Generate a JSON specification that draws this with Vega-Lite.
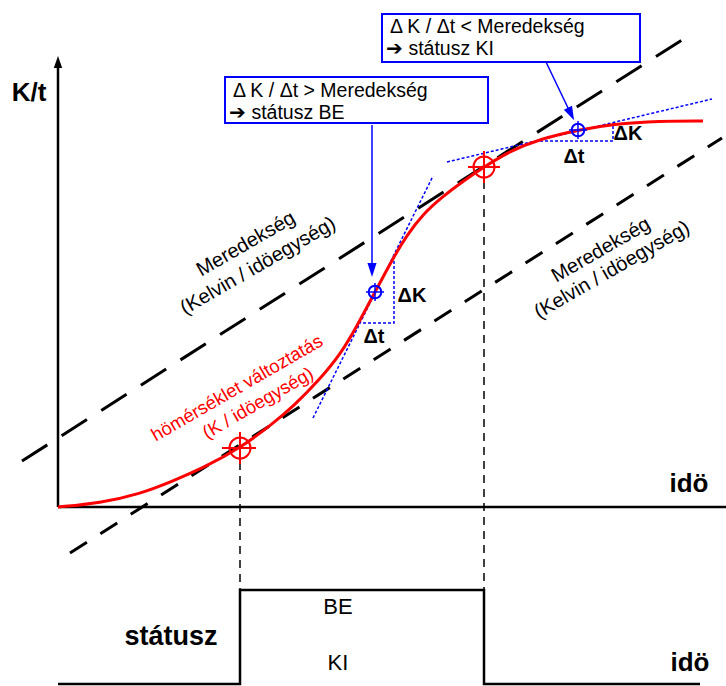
{
  "$schema": "https://vega.github.io/schema/vega-lite/v6.json",
  "width": 726,
  "height": 686,
  "padding": 0,
  "autosize": {"type": "none"},
  "background": "white",
  "config": {"view": {"stroke": null}, "text": {"font": "Liberation Sans"}},
  "datasets": {
    "dashLong": [{"g": "a", "o": 1, "x": 22, "y": 461}, {"g": "a", "o": 2, "x": 685, "y": 38}],
    "dashShort": [{"g": "a", "o": 1, "x": 70, "y": 553}, {"g": "a", "o": 2, "x": 722, "y": 138}],
    "axes": [
      {"g": "yaxis", "o": 1, "x": 58, "y": 507}, {"g": "yaxis", "o": 2, "x": 58, "y": 62},
      {"g": "xaxis", "o": 1, "x": 58, "y": 507}, {"g": "xaxis", "o": 2, "x": 726, "y": 507},
      {"g": "step", "o": 1, "x": 58, "y": 684}, {"g": "step", "o": 2, "x": 240, "y": 684},
      {"g": "step", "o": 3, "x": 240, "y": 590}, {"g": "step", "o": 4, "x": 484, "y": 590},
      {"g": "step", "o": 5, "x": 484, "y": 684}, {"g": "step", "o": 6, "x": 700, "y": 684}
    ],
    "vdash": [
      {"g": "a", "o": 1, "x": 240, "y": 448}, {"g": "a", "o": 2, "x": 240, "y": 592},
      {"g": "b", "o": 1, "x": 484, "y": 167}, {"g": "b", "o": 2, "x": 484, "y": 592}
    ],
    "bdot": [
      {"g": "t1", "o": 1, "x": 313, "y": 418}, {"g": "t1", "o": 2, "x": 433, "y": 176},
      {"g": "t2", "o": 1, "x": 447, "y": 162}, {"g": "t2", "o": 2, "x": 712, "y": 99},
      {"g": "d1", "o": 1, "x": 363, "y": 323}, {"g": "d1", "o": 2, "x": 394, "y": 323}, {"g": "d1", "o": 3, "x": 394, "y": 258},
      {"g": "d2", "o": 1, "x": 540, "y": 141}, {"g": "d2", "o": 2, "x": 613, "y": 141}, {"g": "d2", "o": 3, "x": 613, "y": 123}
    ],
    "red": [
      {"x": 58, "y": 507}, {"x": 100, "y": 503}, {"x": 140, "y": 494}, {"x": 173, "y": 481},
      {"x": 205, "y": 467}, {"x": 240, "y": 448}, {"x": 270, "y": 426}, {"x": 295, "y": 405},
      {"x": 320, "y": 379}, {"x": 340, "y": 355}, {"x": 357, "y": 326}, {"x": 375, "y": 292},
      {"x": 392, "y": 260}, {"x": 407, "y": 235}, {"x": 423, "y": 214}, {"x": 442, "y": 197},
      {"x": 462, "y": 182}, {"x": 484, "y": 167}, {"x": 510, "y": 151}, {"x": 540, "y": 139},
      {"x": 578, "y": 130}, {"x": 613, "y": 124}, {"x": 660, "y": 121}, {"x": 703, "y": 121}
    ],
    "rcross": [
      {"g": "r1h", "o": 1, "x": 222, "y": 448}, {"g": "r1h", "o": 2, "x": 256, "y": 448},
      {"g": "r1v", "o": 1, "x": 240, "y": 432}, {"g": "r1v", "o": 2, "x": 240, "y": 464},
      {"g": "r2h", "o": 1, "x": 468, "y": 167}, {"g": "r2h", "o": 2, "x": 500, "y": 167},
      {"g": "r2v", "o": 1, "x": 484, "y": 151}, {"g": "r2v", "o": 2, "x": 484, "y": 183}
    ],
    "rcirc": [{"x": 240, "y": 448}, {"x": 484, "y": 167}],
    "bsolid": [
      {"g": "p1", "o": 1, "x": 372, "y": 125}, {"g": "p1", "o": 2, "x": 372, "y": 268},
      {"g": "p2", "o": 1, "x": 546, "y": 62}, {"g": "p2", "o": 2, "x": 569, "y": 110},
      {"g": "c1h", "o": 1, "x": 366, "y": 292}, {"g": "c1h", "o": 2, "x": 384, "y": 292},
      {"g": "c1v", "o": 1, "x": 375, "y": 283}, {"g": "c1v", "o": 2, "x": 375, "y": 301},
      {"g": "c2h", "o": 1, "x": 569, "y": 130}, {"g": "c2h", "o": 2, "x": 587, "y": 130},
      {"g": "c2v", "o": 1, "x": 578, "y": 121}, {"g": "c2v", "o": 2, "x": 578, "y": 139}
    ],
    "bcirc": [{"x": 375, "y": 292}, {"x": 578, "y": 130}],
    "upArrow": [{"x": 58, "y": 62}],
    "downArrow1": [{"x": 372, "y": 270}],
    "downArrow2": [{"x": 571, "y": 114}],
    "boxes": [{"x": 225, "x2": 488, "y": 77, "y2": 123}, {"x": 382, "x2": 640, "y": 14, "y2": 62}],
    "boldBig": [
      {"t": "K/t", "x": 29, "y": 93}, {"t": "idö", "x": 689, "y": 484},
      {"t": "idö", "x": 690, "y": 663}
    ],
    "statusz": [{"t": "státusz", "x": 171, "y": 637}],
    "plainMid": [{"t": "BE", "x": 338, "y": 607}, {"t": "KI", "x": 338, "y": 663}],
    "boxText": [
      {"t": "Δ K / Δt > Meredekség", "x": 233, "y": 91},
      {"t": "➔ státusz BE", "x": 229, "y": 113},
      {"t": "Δ K / Δt < Meredekség", "x": 390, "y": 27},
      {"t": "➔ státusz KI", "x": 386, "y": 49}
    ],
    "deltas": [
      {"t": "ΔK", "x": 412, "y": 296}, {"t": "Δt", "x": 374, "y": 337},
      {"t": "ΔK", "x": 628, "y": 134}, {"t": "Δt", "x": 574, "y": 157}
    ],
    "rotBlack": [
      {"t": "Meredekség", "x": 246, "y": 244}, {"t": "(Kelvin / idöegység)", "x": 258, "y": 266},
      {"t": "Meredekség", "x": 601, "y": 250}, {"t": "(Kelvin / idöegység)", "x": 612, "y": 270}
    ],
    "rotRed": [
      {"t": "hömérséklet változtatás", "x": 237, "y": 388}, {"t": "(K / idöegység)", "x": 258, "y": 403}
    ]
  },
  "encoding": {
    "x": {"field": "x", "type": "quantitative", "scale": {"domain": [0, 726], "nice": false, "zero": false}, "axis": null},
    "y": {"field": "y", "type": "quantitative", "scale": {"domain": [0, 686], "reverse": true, "nice": false, "zero": false}, "axis": null}
  },
  "layer": [
    {"data": {"name": "dashLong"}, "mark": {"type": "line", "color": "black", "strokeWidth": 3, "strokeDash": [30, 17]}, "encoding": {"order": {"field": "o"}}},
    {"data": {"name": "dashShort"}, "mark": {"type": "line", "color": "black", "strokeWidth": 3, "strokeDash": [20, 16]}, "encoding": {"order": {"field": "o"}}},
    {"data": {"name": "axes"}, "mark": {"type": "line", "color": "black", "strokeWidth": 2.5}, "encoding": {"detail": {"field": "g"}, "order": {"field": "o"}}},
    {"data": {"name": "vdash"}, "mark": {"type": "line", "color": "black", "strokeWidth": 1.5, "strokeDash": [8, 6]}, "encoding": {"detail": {"field": "g"}, "order": {"field": "o"}}},
    {"data": {"name": "bdot"}, "mark": {"type": "line", "color": "#0000ff", "strokeWidth": 1.5, "strokeDash": [3, 2]}, "encoding": {"detail": {"field": "g"}, "order": {"field": "o"}}},
    {"data": {"name": "red"}, "mark": {"type": "line", "color": "#ff0000", "strokeWidth": 3, "interpolate": "basis"}, "encoding": {}},
    {"data": {"name": "rcross"}, "mark": {"type": "line", "color": "#ff0000", "strokeWidth": 2}, "encoding": {"detail": {"field": "g"}, "order": {"field": "o"}}},
    {"data": {"name": "rcirc"}, "mark": {"type": "point", "shape": "circle", "size": 441, "filled": false, "stroke": "#ff0000", "strokeWidth": 2, "opacity": 1}},
    {"data": {"name": "bsolid"}, "mark": {"type": "line", "color": "#0000ff", "strokeWidth": 1.5}, "encoding": {"detail": {"field": "g"}, "order": {"field": "o"}}},
    {"data": {"name": "bcirc"}, "mark": {"type": "point", "shape": "circle", "size": 160, "filled": false, "stroke": "#0000ff", "strokeWidth": 2, "opacity": 1}},
    {"data": {"name": "upArrow"}, "mark": {"type": "point", "shape": "M-0.7,1L0.7,1L0,-1Z", "size": 144, "filled": true, "color": "black", "opacity": 1}},
    {"data": {"name": "downArrow1"}, "mark": {"type": "point", "shape": "M-0.65,-1L0.65,-1L0,1Z", "size": 196, "filled": true, "color": "#0000ff", "opacity": 1}},
    {"data": {"name": "downArrow2"}, "mark": {"type": "point", "shape": "M-0.65,-1L0.65,-1L0,1Z", "size": 196, "filled": true, "color": "#0000ff", "opacity": 1, "angle": 334}},
    {"data": {"name": "boxes"}, "mark": {"type": "rect", "fill": "white", "stroke": "#0000ff", "strokeWidth": 2}, "encoding": {"x2": {"field": "x2"}, "y2": {"field": "y2"}}},
    {"data": {"name": "boldBig"}, "mark": {"type": "text", "fontSize": 26, "fontWeight": "bold", "color": "black", "align": "center", "baseline": "middle"}, "encoding": {"text": {"field": "t"}}},
    {"data": {"name": "statusz"}, "mark": {"type": "text", "fontSize": 27, "fontWeight": "bold", "color": "black", "align": "center", "baseline": "middle"}, "encoding": {"text": {"field": "t"}}},
    {"data": {"name": "plainMid"}, "mark": {"type": "text", "fontSize": 22, "color": "black", "align": "center", "baseline": "middle"}, "encoding": {"text": {"field": "t"}}},
    {"data": {"name": "boxText"}, "mark": {"type": "text", "fontSize": 19.5, "color": "black", "align": "left", "baseline": "middle"}, "encoding": {"text": {"field": "t"}}},
    {"data": {"name": "deltas"}, "mark": {"type": "text", "fontSize": 20, "fontWeight": "bold", "color": "black", "align": "center", "baseline": "middle"}, "encoding": {"text": {"field": "t"}}},
    {"data": {"name": "rotBlack"}, "mark": {"type": "text", "fontSize": 20, "color": "black", "align": "center", "baseline": "middle", "angle": 330}, "encoding": {"text": {"field": "t"}}},
    {"data": {"name": "rotRed"}, "mark": {"type": "text", "fontSize": 18.5, "color": "#ff0000", "align": "center", "baseline": "middle", "angle": 330}, "encoding": {"text": {"field": "t"}}}
  ]
}
